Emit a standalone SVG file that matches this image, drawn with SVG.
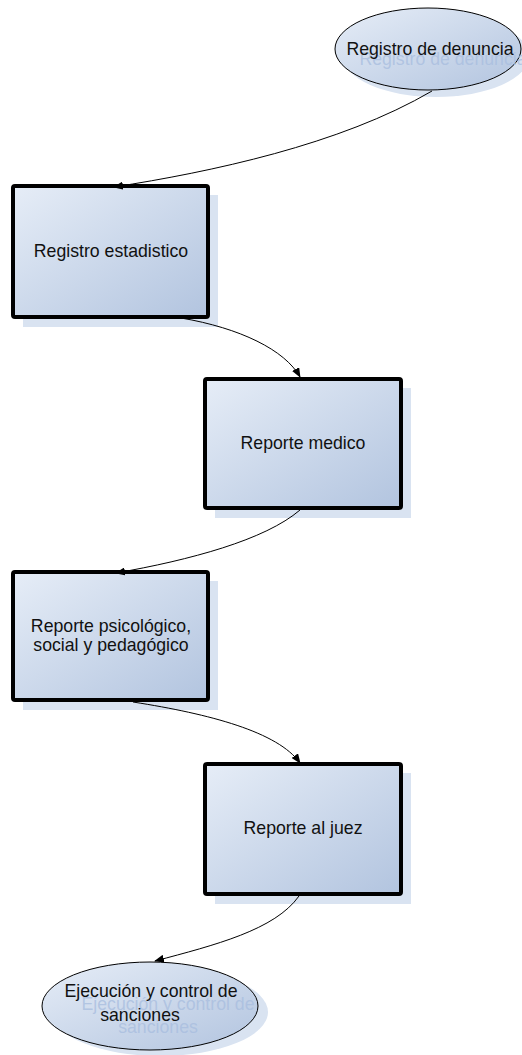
<svg xmlns="http://www.w3.org/2000/svg" width="522" height="1055" viewBox="0 0 522 1055">
  <style>
    .shadow { fill: #d9e3f1; }
    .box { fill: url(#boxFill); stroke: #000; stroke-width: 4; }
    .oval { fill: url(#boxFill); stroke: #000; stroke-width: 1; }
    .label { font-family: "Liberation Sans", Arial, sans-serif; font-size: 17.7px; fill: #111; text-anchor: middle; }
    .ghost { font-family: "Liberation Sans", Arial, sans-serif; font-size: 17.7px; fill: #a9bedf; fill-opacity: 0.8; text-anchor: middle; }
    .link { fill: none; stroke: #000; stroke-width: 1; marker-end: url(#arrow); }
  </style>
  <defs>
    <linearGradient id="boxFill" x1="0" y1="0" x2="1" y2="1">
      <stop offset="0" stop-color="#e6edf7"/>
      <stop offset="1" stop-color="#b2c4df"/>
    </linearGradient>
    <marker id="arrow" viewBox="0 0 10 8" refX="9" refY="4" markerWidth="10" markerHeight="8" markerUnits="userSpaceOnUse" orient="auto">
      <path d="M0,0 L10,4 L0,8 Z" fill="#000"/>
    </marker>
    <clipPath id="pageClip"><rect x="0" y="0" width="522" height="1055"/></clipPath>
  </defs>

  <g id="registro-denuncia" clip-path="url(#pageClip)">
    <ellipse class="shadow" cx="436" cy="56" rx="93" ry="41"/>
    <ellipse class="oval" cx="428" cy="49" rx="93" ry="41"/>
    <text class="ghost" x="443" y="65">Registro de denuncia</text>
    <text class="label" x="430" y="55">Registro de denuncia</text>
  </g>

  <g id="registro-estadistico">
    <rect class="shadow" x="23" y="195" width="195" height="132"/>
    <rect class="box" x="13" y="186" width="195" height="131" rx="2"/>
    <text class="label" x="111" y="257">Registro estadistico</text>
  </g>

  <g id="reporte-medico">
    <rect class="shadow" x="215" y="388" width="196" height="130"/>
    <rect class="box" x="205" y="379" width="196" height="129" rx="2"/>
    <text class="label" x="303" y="449">Reporte medico</text>
  </g>

  <g id="reporte-psicologico">
    <rect class="shadow" x="23" y="581" width="195" height="129"/>
    <rect class="box" x="13" y="572" width="195" height="128" rx="2"/>
    <text class="label" x="111" y="632">Reporte psicológico,</text>
    <text class="label" x="111" y="651">social y pedagógico</text>
  </g>

  <g id="reporte-juez">
    <rect class="shadow" x="215" y="773" width="196" height="131"/>
    <rect class="box" x="205" y="764" width="196" height="130" rx="2"/>
    <text class="label" x="303" y="834">Reporte al juez</text>
  </g>

  <g id="ejecucion-sanciones">
    <ellipse class="shadow" cx="160" cy="1012" rx="108" ry="44"/>
    <ellipse class="oval" cx="150" cy="1006" rx="108" ry="44"/>
    <text class="ghost" x="168" y="1010">Ejecución y control de</text>
    <text class="ghost" x="158" y="1033">sanciones</text>
    <text class="label" x="151" y="997">Ejecución y control de</text>
    <text class="label" x="140" y="1021">sanciones</text>
  </g>

  <!-- connectors, drawn over the node shadows -->
  <g id="connectors">
    <path class="link" d="M432,91 C340,145 210,172 114,187"/>
    <path class="link" d="M181,318 C240,328 285,350 300,377"/>
    <path class="link" d="M300,510 C265,540 190,560 116,573"/>
    <path class="link" d="M133,702 C210,714 278,732 300,763"/>
    <path class="link" d="M299,896 C275,930 215,945 155,961"/>
  </g>
</svg>
